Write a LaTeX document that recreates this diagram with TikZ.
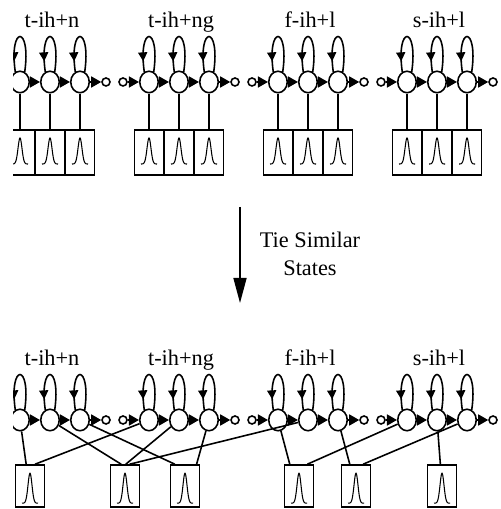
\documentclass[tikz,border=0pt]{standalone}
\usepackage{fontspec}
\setmainfont{Liberation Serif}
\usetikzlibrary{positioning,shapes.geometric,arrows.meta,decorations.markings}

\tikzset{
  state/.style={draw,ellipse,minimum width=0.37cm,minimum height=0.43cm,inner sep=0pt},
  dot/.style={draw,circle,minimum size=0.16cm,inner sep=0pt},
  tr/.style={-{Triangle[length=0.2cm,width=0.22cm]}},
  selfloop/.style={decoration={markings,
      mark=at position 0.86 with {\arrow{Triangle[length=0.18cm,width=0.18cm]}}},
    postaction={decorate}},
  pdf/.style={draw,minimum width=0.58cm,minimum height=#1,inner sep=0pt},
  lbl/.style={font=\fontsize{12.7}{15}\selectfont,anchor=base},
}
% bell shaped output density inside a pdf box: #1 = box, #2 = depth of the bell
\newcommand\bell[2]{\draw[line width=0.6pt,shift={(#1.north)}]
  plot[domain=-8:8,samples=41,smooth] (\x,{-9-#2*(1-exp(-((\x/2.8)^2)))});}

\begin{document}
\begin{tikzpicture}[x=0.02cm,y=0.02cm,line width=0.9pt,node distance=0.71cm]
\useasboundingbox (0,0) rectangle (500,509);
\clip (13,0) rectangle (500,509);

% triphone models: upper row untied (t), lower row tied (b)
\foreach \row/\yy in {t/427,b/89}{
  \foreach \m/\lab in {1/t-ih+n,2/t-ih+ng,3/f-ih+l,4/s-ih+l}{
    \pgfmathsetmacro\xo{20+129*(\m-1)}
    \node[dot] (\row e\m) at (\xo-26,\yy) {};
    \foreach \k in {1,2,3}
      \node[state] (\row s\m\k) at (\xo+30*\k-30,\yy) {};
    \node[dot] (\row x\m) at (\xo+86,\yy) {};
    \draw[tr] (\row e\m) -- (\row s\m1);
    \draw[tr] (\row s\m1) -- (\row s\m2);
    \draw[tr] (\row s\m2) -- (\row s\m3);
    \draw[tr] (\row s\m3) -- (\row x\m);
    \foreach \k in {1,2,3}
      \draw[selfloop] (\row s\m\k.65) .. controls +(82:0.95cm) and +(98:0.95cm) .. (\row s\m\k.115);
    \node[lbl] at (\xo+32,\yy+54) {\lab};
  }
}

% one output pdf per state before tying
\foreach \m in {1,...,4}
  \foreach \k in {1,2,3}{
    \node[pdf=0.9cm,below=of ts\m\k] (tg\m\k) {};
    \bell{tg\m\k}{26}
    \draw (ts\m\k) -- (tg\m\k);
  }

% tie similar states
\coordinate (tietop) at (240,302);
\coordinate (tiebot) at (240,206);
\draw[-{Triangle[length=0.5cm,width=0.26cm]}] (tietop) -- (tiebot);
\node[font=\fontsize{12.7}{16}\selectfont,align=center] (tie) at (310,255) {Tie Similar\\States};

% shared pdfs after tying
\foreach \g/\gx in {1/30,2/125,3/185,4/299,5/356,6/442}{
  \node[pdf=0.84cm] (g\g) at (\gx,23) {};
  \bell{g\g}{30}
}

\draw (bs11) -- (g1.100);
\draw (g1.77) -- (bs21);
\draw (bs12) -- (g2.100);
\draw (g2.88) -- (bs22);
\draw (g2.78) -- (bs32);
\draw (bs13) -- (g3.115);
\draw (bs23) -- (g3.62);
\draw (bs31) -- (g4.113);
\draw (g4.69) -- (bs41);
\draw (bs33) -- (g5.106);
\draw (g5.72) -- (bs43);
\draw (bs42) -- (g6);
\end{tikzpicture}
\end{document}
